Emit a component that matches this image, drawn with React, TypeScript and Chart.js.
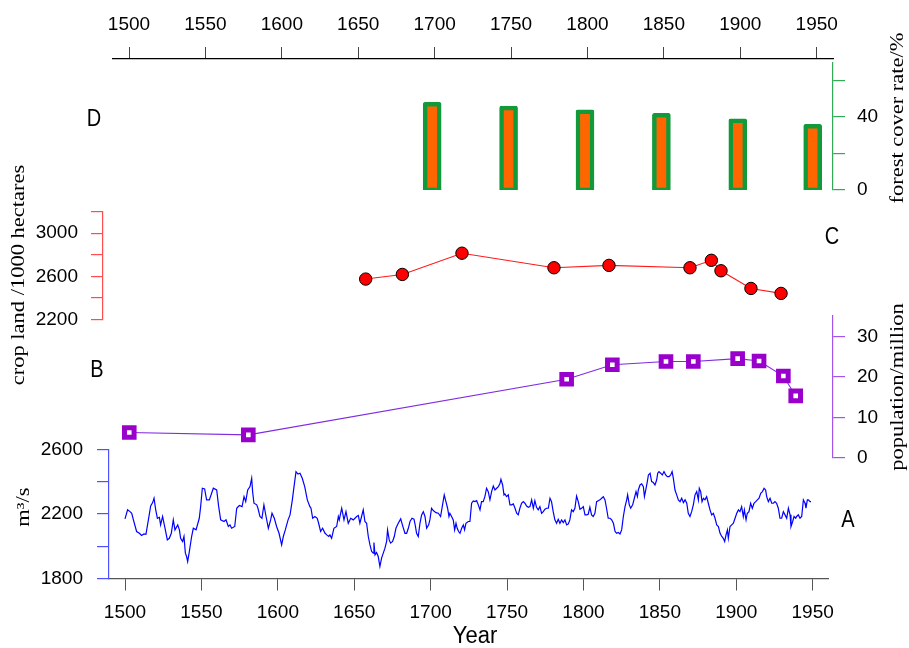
import React, { useEffect, useRef } from 'react';
import { Chart, registerables } from 'chart.js';

Chart.register(...registerables);

// ---------- data ----------
const yearTicks = [1500, 1550, 1600, 1650, 1700, 1750, 1800, 1850, 1900, 1950];

// D: forest cover rate (%)
const forestYears = [1701, 1751, 1801, 1851, 1901, 1950];
const forestCover = [48, 46, 44, 42, 39, 36];
const forestTicks = [0, 20, 40, 60];
const forestLabels = [0, 40];

// C: crop land (1000 hectares)
const cropYears = [1657.5, 1681.5, 1720.5, 1780.7, 1816.7, 1869.7, 1883.7, 1890, 1909.6, 1929.3];
const cropLand = [2575, 2618, 2815, 2680, 2702, 2680, 2749, 2652, 2488, 2442];
const cropTicks = [2200, 2400, 2600, 2800, 3000, 3200];
const cropLabels = [2200, 2600, 3000];

// B: population (million)
const popYears = [1502.8, 1580.7, 1789, 1818.9, 1854, 1871.9, 1900.9, 1914.9, 1930.8, 1938.9];
const population = [6.3, 5.7, 19.4, 23.0, 23.8, 23.8, 24.5, 23.9, 20.2, 15.3];
const popTicks = [0, 10, 20, 30];
const popLabels = [0, 10, 20, 30];

// A: runoff (m3/s)
const flowYears = [
  1500.0,1501.7,1503.3,1504.4,1505.5,1507.6,1509.4,1510.9,1512.4,1513.7,
  1515.3,1516.8,1518.1,1519.0,1520.1,1521.2,1522.5,1523.3,1524.6,1526.4,
  1527.7,1529.0,1530.3,1531.6,1532.7,1534.5,1535.6,1536.4,1537.7,1538.6,
  1539.5,1540.3,1541.0,1542.1,1543.6,1544.7,1546.5,1548.6,1549.5,1550.6,
  1552.1,1553.4,1555.2,1557.8,1560.0,1561.3,1562.6,1564.8,1566.1,1567.6,
  1568.7,1569.8,1571.8,1573.1,1574.8,1576.6,1577.9,1579.0,1580.3,1581.8,
  1582.9,1583.5,1584.4,1586.2,1587.0,1588.3,1589.6,1590.9,1592.3,1593.8,
  1595.3,1596.2,1597.7,1599.2,1600.8,1602.5,1603.6,1604.9,1606.7,1608.0,
  1609.5,1610.6,1611.9,1613.2,1614.5,1616.0,1617.6,1619.3,1621.0,1621.7,
  1622.8,1624.3,1625.8,1626.7,1628.0,1629.3,1630.9,1632.0,1633.3,1634.1,
  1635.2,1636.7,1638.5,1639.6,1640.2,1641.8,1643.3,1644.6,1646.1,1647.7,
  1649.4,1651.6,1652.7,1653.7,1654.8,1655.9,1657.0,1658.1,1659.2,1660.3,
  1661.4,1662.5,1662.9,1663.6,1664.6,1665.7,1666.8,1667.9,1669.0,1670.1,
  1671.2,1671.8,1672.9,1673.8,1675.1,1676.2,1677.3,1678.8,1680.4,1681.7,
  1683.2,1684.3,1685.4,1686.5,1687.8,1689.1,1690.0,1690.8,1691.9,1693.0,
  1694.1,1695.2,1696.3,1697.4,1698.7,1699.5,1700.6,1701.7,1703.5,1705.0,
  1706.5,1707.8,1708.9,1710.0,1711.1,1712.0,1712.6,1713.7,1714.8,1715.7,
  1716.6,1717.4,1718.3,1719.2,1720.3,1721.4,1722.2,1723.1,1724.6,1725.7,
  1726.8,1727.9,1729.0,1730.1,1731.2,1732.3,1733.3,1734.4,1735.5,1736.6,
  1737.7,1738.8,1739.9,1741.0,1742.1,1743.2,1744.3,1745.3,1746.0,1747.1,
  1748.0,1748.6,1749.7,1750.8,1751.9,1753.0,1754.1,1755.2,1756.3,1757.3,
  1758.4,1759.5,1760.6,1761.7,1762.8,1763.9,1765.0,1766.1,1767.2,1768.2,
  1769.3,1770.4,1771.5,1772.6,1773.7,1774.8,1775.9,1777.0,1778.1,1779.1,
  1780.2,1781.3,1782.4,1783.5,1784.6,1785.7,1786.8,1787.9,1789.0,1790.1,
  1791.1,1792.2,1793.3,1794.4,1795.5,1796.6,1797.7,1798.8,1799.9,1801.0,
  1802.1,1803.1,1804.2,1805.3,1806.4,1807.5,1808.6,1809.7,1810.8,1811.9,
  1813.0,1814.1,1815.1,1816.2,
  1817.4,1818.5,1819.6,1820.7,1821.7,1822.8,1823.9,1825.0,1826.1,1827.2,
  1828.3,1828.9,1830.0,1830.9,1832.2,1833.3,1834.4,1835.3,1835.9,1837.0,
  1838.1,1839.2,1839.9,1841.0,1841.8,1842.5,1843.6,1844.6,1845.7,1846.8,
  1847.9,1848.6,1849.4,1850.5,1851.6,1852.7,1853.8,1854.9,1856.0,1857.1,
  1858.0,1858.8,1859.9,1861.0,1862.1,1863.2,1864.3,1865.4,1866.5,1867.6,
  1868.6,1869.7,1870.8,1871.9,1873.0,1874.1,1875.2,1875.8,1876.7,1877.6,
  1878.5,1879.5,1880.6,1881.7,1882.8,1883.9,1885.0,1886.1,1887.2,1888.3,
  1889.4,1890.5,1891.5,1892.4,1893.3,1894.2,1894.8,1895.9,1897.0,1898.1,
  1899.2,1900.3,1901.4,1902.4,1903.5,1904.6,1905.3,1906.4,1907.2,1908.3,
  1909.4,1910.5,1911.6,1912.7,1913.8,1914.9,1916.0,1917.1,1918.2,1919.2,
  1919.9,1921.0,1922.1,1923.2,1924.3,1925.3,1926.4,1927.5,1928.6,1929.7,
  1930.8,1931.9,1933.0,1934.1,1935.2,1935.8,1936.9,1937.8,1938.9,1939.5,
  1940.6,1941.7,1942.8,1943.9,1945.0,1945.6,1946.5,1947.2,1948.3,1948.9,
];
const flowValues = [
  2169,2225,2214,2204,2163,2091,2080,2066,2076,2074,
  2163,2249,2270,2297,2225,2173,2179,2132,2184,2101,
  2039,2049,2080,2163,2101,2132,2101,2049,2029,2060,
  1957,1936,1905,1967,2060,2111,2101,2173,2245,2359,
  2355,2287,2287,2359,2348,2245,2163,2153,2163,2122,
  2132,2111,2122,2235,2252,2245,2307,2276,2348,2369,
  2421,2338,2266,2256,2235,2184,2173,2256,2184,2111,
  2163,2204,2173,2122,2080,2008,2060,2101,2163,2194,
  2287,2369,2462,2447,2452,2421,2369,2287,2245,2235,
  2173,2184,2173,2142,2091,2111,2080,2070,2060,2070,
  2049,2111,2122,2184,2163,2235,2163,2214,2142,2173,
  2163,2184,2190,2142,2184,2225,2153,2142,2060,2008,
  1967,1957,2023,1946,1961,1936,1874,1926,1957,1988,
  2029,2101,2039,2019,2029,2060,2111,2142,2169,2126,
  2080,2080,2111,2153,2173,2167,2126,2080,2060,2142,
  2194,2214,2184,2111,2132,2163,2235,2221,2208,2204,
  2184,2256,2318,2276,2235,2184,2204,2184,2163,2101,
  2142,2111,2091,2080,2111,2132,2101,2142,2153,2153,
  2266,2280,2276,2282,2256,2225,2276,2276,2307,2359,
  2338,2287,2338,2373,2348,2359,2369,2386,2414,2379,
  2318,2324,2307,2318,2256,2256,2262,2235,2204,2194,
  2235,2266,2276,2266,2249,2241,2245,2287,2235,2282,
  2241,2225,2245,2204,2214,2229,2235,2235,2297,2276,
  2214,2163,2142,2167,2142,2163,2146,2163,2132,2138,
  2163,2225,2214,2235,2311,2276,2229,2235,2245,2194,
  2194,2198,2241,2194,2184,2204,2276,2282,2287,2297,
  2307,2287,2235,2173,
  2173,2163,2142,2091,2080,2085,2076,2101,2184,2245,
  2287,2318,2256,2235,2256,2297,2338,2307,2348,2379,
  2386,2369,2307,2359,2400,2441,2452,2400,2394,2379,
  2410,2452,2462,2452,2441,2462,2441,2431,2431,2441,
  2462,2421,2348,2318,2287,2276,2297,2270,2287,2266,
  2204,2184,2214,2256,2318,2338,2287,2359,2338,2276,
  2297,2287,2307,2266,2225,2194,2204,2173,2132,2122,
  2080,2060,2049,2029,2070,2101,2049,2122,2132,2142,
  2173,2204,2225,2214,2245,2184,2225,2163,2204,2214,
  2266,2235,2266,2276,2287,2297,2328,2338,2359,2348,
  2307,2276,2297,2266,2266,2276,2266,2235,2173,2173,
  2214,2194,2173,2235,2194,2122,2153,2184,2173,2184,
  2194,2173,2184,2287,2266,2235,2287,2287,2276,2276,
];
const flowTicks = [1800, 2000, 2200, 2400, 2600];
const flowLabels = [1800, 2200, 2600];

// ---------- styling helpers ----------
const SANS = '"Liberation Sans", Arial, sans-serif';
const SERIF = '"Liberation Serif", "Times New Roman", serif';
const tickFont = { family: SANS, size: 19 };

const pts = (xs: number[], ys: number[]) => xs.map((x, i) => ({ x, y: ys[i] }));
const setTicks = (vals: number[]) => (s: any) => { s.ticks = vals.map((v) => ({ value: v })); };
const showOnly = (vals: number[]) => (v: any) => (vals.includes(Number(v)) ? String(v) : '');
const fixW = (w: number) => (s: any) => { s.width = w; };
const fixH = (h: number) => (s: any) => { s.height = h; };

const LEFT_W = 109;
const RIGHT_W = 76;

function yAxis(o: {
  pos: 'left' | 'right'; stack: string; sw: number; weight: number; color?: string;
  min?: number; max?: number; ticks?: number[]; labels?: number[]; padding?: number; display?: boolean;
}) {
  const display = o.display !== false;
  return {
    type: 'linear', axis: 'y', position: o.pos, stack: o.stack, stackWeight: o.sw, weight: o.weight,
    display, min: o.min ?? 0, max: o.max ?? 1,
    afterFit: fixW(o.pos === 'left' ? LEFT_W : RIGHT_W),
    ...(display ? { afterBuildTicks: setTicks(o.ticks || []) } : {}),
    grid: { display, drawOnChartArea: false, drawTicks: true, tickLength: 12, color: o.color, lineWidth: 1.2 },
    border: { display, color: o.color, width: 1.2 },
    ticks: {
      display, font: tickFont, color: '#000', padding: o.padding ?? 13, autoSkip: false,
      callback: showOnly(o.labels || []),
    },
  };
}

function vText(ctx: CanvasRenderingContext2D, text: string, x: number, y: number, size: number, stretch: number) {
  ctx.save();
  ctx.translate(x, y);
  ctx.rotate(-Math.PI / 2);
  ctx.scale(stretch, 1);
  ctx.font = `${size}px ${SERIF}`;
  ctx.fillStyle = '#000';
  ctx.textAlign = 'center';
  ctx.textBaseline = 'middle';
  ctx.fillText(text, 0, 0);
  ctx.restore();
}

function hText(ctx: CanvasRenderingContext2D, text: string, x: number, y: number, size: number, sy: number) {
  ctx.save();
  ctx.translate(x, y);
  ctx.scale(1, sy);
  ctx.font = `${size}px ${SANS}`;
  ctx.fillStyle = '#000';
  ctx.textAlign = 'center';
  ctx.textBaseline = 'middle';
  ctx.fillText(text, 0, 0);
  ctx.restore();
}

const annotations = {
  id: 'annotations',
  afterLayout(chart: any) {
    const c = chart.scales.yC;
    if (c) {
      c.left -= 6;
      c.right -= 6;
      c._labelItems = null;
      c._gridLineItems = null;
    }
    const xb = chart.scales.x;
    if (xb) {
      xb.right -= 5;
      xb.width = xb.right - xb.left;
      xb.configure();
      xb._labelItems = null;
      xb._gridLineItems = null;
    }
    const xt = chart.scales.x2;
    if (xt) {
      xt.left += 4;
      xt.width = xt.right - xt.left;
      xt.configure();
      xt._labelItems = null;
      xt._gridLineItems = null;
    }
  },
  afterDraw(chart: any) {
    const ctx = chart.ctx as CanvasRenderingContext2D;
    vText(ctx, 'crop land /1000 hectares', 19, 275, 18, 1.25);
    vText(ctx, 'm³/s', 24, 507, 18, 1.25);
    vText(ctx, 'forest cover rate/%', 898, 118, 18, 1.25);
    vText(ctx, 'population/million', 898, 387, 18, 1.25);
    hText(ctx, 'Year', 475, 637, 22, 1.05);
    hText(ctx, 'D', 94, 120, 20, 1.15);
    hText(ctx, 'C', 832, 238, 20, 1.15);
    hText(ctx, 'B', 97, 371, 20, 1.15);
    hText(ctx, 'A', 848, 521, 20, 1.15);
  },
};

export default function App() {
  const ref = useRef<HTMLCanvasElement>(null);

  useEffect(() => {
    if (!ref.current) return;
    const chart = new Chart(ref.current, {
      type: 'line',
      data: {
        datasets: [
          {
            type: 'bar',
            label: 'forest cover rate',
            data: pts(forestYears, forestCover),
            xAxisID: 'x', yAxisID: 'yD',
            backgroundColor: '#ff6600', borderColor: '#12993a', borderWidth: 4.5,
            borderSkipped: false, borderRadius: 2, barThickness: 18, base: -1,
          } as any,
          {
            label: 'crop land',
            data: pts(cropYears, cropLand),
            xAxisID: 'x', yAxisID: 'yC',
            borderColor: '#ff1a1a', borderWidth: 1.1, tension: 0,
            pointRadius: 6.2, pointBackgroundColor: '#ff0000', pointBorderColor: '#000', pointBorderWidth: 1,
          },
          {
            label: 'population',
            data: pts(popYears, population),
            xAxisID: 'x', yAxisID: 'yB',
            borderColor: '#7f2be0', borderWidth: 1.1, tension: 0,
            pointStyle: 'rect', pointRadius: 6.8, pointBackgroundColor: '#ffffff',
            pointBorderColor: '#9900cc', pointBorderWidth: 5,
          },
          {
            label: 'runoff',
            data: pts(flowYears, flowValues),
            xAxisID: 'x', yAxisID: 'yA',
            borderColor: '#0000ff', borderWidth: 1.2, tension: 0, pointRadius: 0,
          },
        ],
      },
      options: {
        animation: false,
        responsive: false,
        devicePixelRatio: 1,
        events: [],
        layout: { padding: 0 },
        plugins: { legend: { display: false }, tooltip: { enabled: false } },
        scales: {
          x: {
            type: 'linear', axis: 'x', position: 'bottom', min: 1489.53, max: 1960.02, offset: false,
            afterBuildTicks: setTicks(yearTicks), afterFit: fixH(69.5),
            grid: { drawOnChartArea: false, drawTicks: true, tickLength: 12, color: '#555', offset: false },
            border: { display: true, color: '#555', width: 1.2 },
            ticks: { font: tickFont, color: '#000', padding: 11, autoSkip: false, maxRotation: 0, callback: (v: any) => String(v) },
          },
          x2: {
            type: 'linear', axis: 'x', position: 'top', min: 1489.53, max: 1960.67, offset: false,
            afterBuildTicks: setTicks(yearTicks), afterFit: fixH(59),
            grid: { drawOnChartArea: false, drawTicks: true, tickLength: 12, color: '#444', offset: false },
            border: { display: true, color: '#000', width: 1.2 },
            ticks: { font: tickFont, color: '#000', padding: 11, autoSkip: false, maxRotation: 0, callback: (v: any) => String(v) },
          },
          lTop: yAxis({ pos: 'left', stack: 'L', sw: 152.7, weight: 4, display: false }),
          yC: yAxis({ pos: 'left', stack: 'L', sw: 107.8, weight: 3, color: '#ff4d4d', min: 2200, max: 3200, ticks: cropTicks, labels: cropLabels, padding: 13 }),
          lGap: yAxis({ pos: 'left', stack: 'L', sw: 129.8, weight: 2, display: false }),
          yA: yAxis({ pos: 'left', stack: 'L', sw: 129.2, weight: 1, color: '#5050ff', min: 1800, max: 2600, ticks: flowTicks, labels: flowLabels, padding: 14 }),
          rTop: yAxis({ pos: 'right', stack: 'R', sw: 3.3, weight: 1, display: false }),
          yD: yAxis({ pos: 'right', stack: 'R', sw: 127.7, weight: 2, color: '#33aa55', min: 0, max: 70, ticks: forestTicks, labels: forestLabels, padding: 12 }),
          rGap: yAxis({ pos: 'right', stack: 'R', sw: 126, weight: 3, display: false }),
          yB: yAxis({ pos: 'right', stack: 'R', sw: 142, weight: 4, color: '#a255e8', min: 0, max: 35, ticks: popTicks, labels: popLabels, padding: 12 }),
          rBot: yAxis({ pos: 'right', stack: 'R', sw: 120.5, weight: 5, display: false }),
        } as any,
      },
      plugins: [annotations],
    } as any);
    return () => chart.destroy();
  }, []);

  return (
    <div style={{ position: 'fixed', left: 0, top: 0, width: 909, height: 648, background: '#fff' }}>
      <canvas ref={ref} width={909} height={648} style={{ display: 'block', width: 909, height: 648 }} />
    </div>
  );
}
